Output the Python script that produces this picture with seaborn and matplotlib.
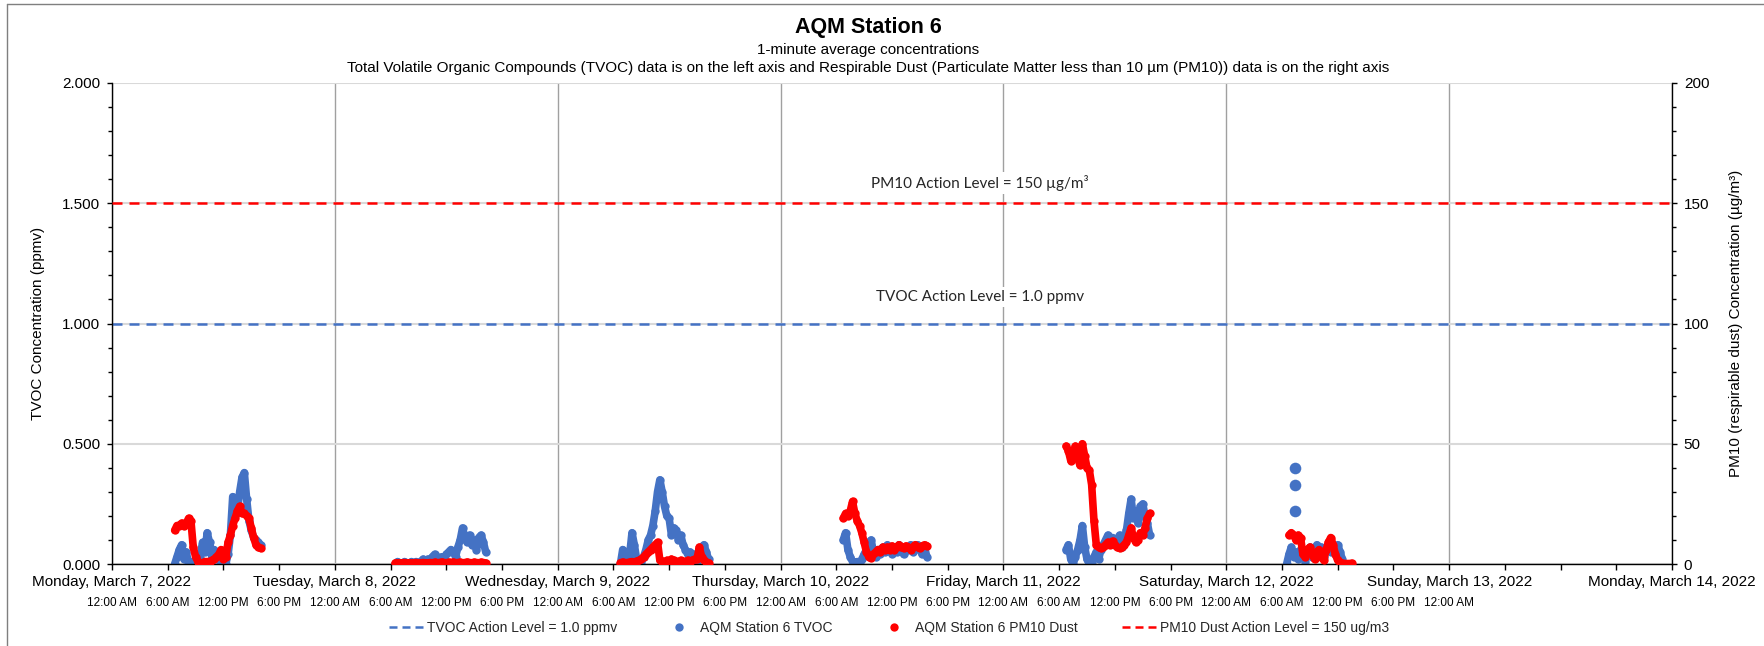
import numpy as np
import pandas as pd
import matplotlib
matplotlib.use("Agg")
import matplotlib.pyplot as plt
import matplotlib.dates as mdates
import matplotlib.transforms as mtrans
from matplotlib.lines import Line2D
from matplotlib.ticker import MultipleLocator, FormatStrFormatter, FuncFormatter
import seaborn as sns

sns.set_theme(style="ticks")
plt.rcParams['font.family'] = ['Liberation Sans', 'DejaVu Sans']

nan = np.nan

# 15-minute readings, one block per monitored day
seg_start = ["2022-03-07 06:45", "2022-03-08 06:30", "2022-03-09 06:45",
             "2022-03-10 06:45", "2022-03-11 06:45", "2022-03-12 06:30"]

tvoc_mon = [0.00, 0.03, 0.06, 0.08, 0.02, 0.05, 0.00, 0.01, 0.00, 0.01,
            0.00, 0.03, 0.09, 0.05, 0.13, 0.09, 0.03, 0.06, 0.02, 0.05,
            0.00, 0.02, 0.00, 0.04, 0.12, 0.28, 0.27, 0.22, 0.30, 0.36,
            0.38, 0.27, 0.18, 0.14, 0.11, 0.10, 0.09, 0.08]
pm10_mon = [14, 16, 16, 17, 16, 17, 19, 18, 7, 3,
            1, 0.5, 0.5, 1, 1, 1, 1.5, 2, 3, 4,
            6, 2, 3, 9, 12, 16, 19, 22, 24, 21,
            21, 20, 19, 15, 11, 8, 7, 6.5]

tvoc_tue = [0.00, 0.01, 0.00, 0.00, 0.01, 0.00, 0.00, 0.01, 0.00, 0.01,
            0.00, 0.01, 0.02, 0.01, 0.02, 0.01, 0.03, 0.04, 0.03, 0.02,
            0.03, 0.02, 0.04, 0.05, 0.06, 0.05, 0.03, 0.07, 0.10, 0.15,
            0.11, 0.09, 0.12, 0.08, 0.10, 0.06, 0.11, 0.12, 0.09, 0.05]
pm10_tue = [0.4, 0.5, 0.3, 0.5, 0.6, 0.4, 0.5, 0.3, 0.5, 0.6,
            0.4, 0.5, 0.6, 0.5, 0.4, 0.6, 0.5, 0.7, 0.5, 0.6,
            0.8, 0.6, 0.5, 0.7, 0.6, 0.8, 0.5, 0.6, 0.7, 0.5,
            0.6, 0.8, 0.6, 0.5, 0.7, 0.6, 0.5, 0.7, 0.6, 0.4]

tvoc_wed = [0.00, 0.06, 0.02, 0.00, 0.04, 0.13, 0.08, 0.02, 0.00, 0.01,
            0.03, 0.06, 0.10, 0.12, 0.16, 0.22, 0.30, 0.35, 0.30, 0.24,
            0.20, 0.19, 0.12, 0.15, 0.14, 0.10, 0.12, 0.08, 0.06, 0.04,
            0.05, 0.03, 0.04, 0.01, 0.02, 0.07, 0.08, 0.05, 0.02]
pm10_wed = [0.5, 0.8, 0.5, 0.6, 0.8, 1.0, 0.8, 1.2, 1.5, 2,
            3, 4, 5, 6, 7, 8, 9, 1.5, 1, 1,
            1.5, 1, 2, 1.5, 1, 1, 1.5, 1, 1, 1.5,
            1, 1.5, 2, 2, 7, 3, 1.5, 0.8, 0.5]

tvoc_thu = [0.10, 0.13, 0.06, 0.03, 0.01, 0.00, 0.01, 0.00, 0.02, 0.04,
            0.06, 0.09, 0.10, 0.05, 0.03, 0.06, 0.04, 0.07, 0.05, 0.08,
            0.06, 0.04, 0.07, 0.05, 0.08, 0.06, 0.04, 0.07, 0.06, 0.08,
            0.05, 0.07, 0.08, 0.06, 0.04, 0.07, 0.03]
pm10_thu = [19, 21, 20, 22, 26, 21, 18, 16, 13, 9,
            5, 3, 2.5, 4, 5, 6, 5, 7, 6, 7,
            6, 7.5, 6, 7, 8, 7, 6.5, 7.5, 7, 6,
            7, 8, 7, 6.5, 7.5, 8, 7.5]

tvoc_fri = [0.06, 0.08, 0.02, 0.00, 0.03, 0.06, 0.10, 0.16, 0.07, 0.02,
            0.00, 0.01, 0.03, 0.05, 0.02, 0.06, 0.08, 0.10, 0.12, 0.09,
            0.11, 0.08, 0.10, 0.12, 0.07, 0.10, 0.14, 0.21, 0.27, 0.19,
            0.22, 0.17, 0.24, 0.25, 0.20, 0.17, 0.12]
pm10_fri = [49, 47, 43, 46, 49, 44, 41, 50, 45, 40,
            39, 33, 18, 8, 7, 6.5, 7, 8, 9, 8,
            9.5, 8, 7, 6.5, 7, 8, 9, 12, 15, 11,
            9, 10, 13, 12, 15, 19, 21]

tvoc_sat = [0.00, 0.04, 0.07, 0.03, 0.05, 0.02, 0.06, 0.04, 0.01, 0.05,
            0.07, 0.03, 0.06, 0.08, 0.04, 0.07, 0.03, 0.06, 0.08, 0.05,
            0.07, 0.04, 0.08, 0.05, 0.02, nan, nan, nan, nan]
pm10_sat = [nan, 12, 13, 12, 10, 12, 11, 4, 3, 6,
            7, 4, 2, 5, 6, 3, 1.5, 6, 9, 11,
            8, 4, 1.5, 0.5, 0.3, 0.2, 0.2, 0.2, 0.3]

# isolated TVOC spikes on Saturday morning
spike_time = ["2022-03-12 07:24", "2022-03-12 07:25", "2022-03-12 07:26"]
spike_tvoc = [0.40, 0.33, 0.22]

time_labels = ["12:00 AM", "6:00 AM", "12:00 PM", "6:00 PM"] * 6 + ["12:00 AM"]

tvoc_all = [tvoc_mon, tvoc_tue, tvoc_wed, tvoc_thu, tvoc_fri, tvoc_sat]
pm10_all = [pm10_mon, pm10_tue, pm10_wed, pm10_thu, pm10_fri, pm10_sat]

frames = []
for i, (st, tv, pm) in enumerate(zip(seg_start, tvoc_all, pm10_all)):
    t = pd.date_range(st, periods=len(tv), freq="15min")
    frames.append(pd.DataFrame({"time": t, "tvoc": tv, "pm10": pm, "seg": i}))
df = pd.concat(frames, ignore_index=True)

BLUE = "#4472C4"
RED = "#FF0000"
DASH = (0, (4, 2.8))
LEG_DASH = (0, (3.2, 2))

fig = plt.figure(figsize=(17.64, 6.46), dpi=100)
W, H = 1764, 646
ax = fig.add_axes([112 / W, 1 - 564 / H, 1560 / W, 481 / H])
ax2 = ax.twinx()

ax.set_axisbelow(True)
ax.yaxis.grid(True, color="#D9D9D9", lw=1.5)
ax.xaxis.grid(True, which="major", color="#A0A0A0", lw=1)

line_kw = dict(estimator=None, units="seg", marker="o", markersize=6,
               markeredgewidth=0, lw=5.5, solid_capstyle="round",
               solid_joinstyle="round", legend=False)
sns.lineplot(data=df.dropna(subset=["tvoc"]), x="time", y="tvoc", ax=ax,
             color=BLUE, **line_kw)
sns.scatterplot(x=pd.to_datetime(spike_time), y=spike_tvoc, ax=ax, color=BLUE,
                s=70, linewidth=0, legend=False)
ax.axhline(1.0, color=BLUE, ls=DASH, lw=1.8)

sns.lineplot(data=df.dropna(subset=["pm10"]), x="time", y="pm10", ax=ax2,
             color=RED, **line_kw)
ax2.axhline(150, color=RED, ls=DASH, lw=1.8)

# axes
ax.set_xlim(pd.Timestamp("2022-03-07"), pd.Timestamp("2022-03-14"))
ax.set_ylim(0, 2)
ax2.set_ylim(0, 200)
ax.xaxis.set_major_locator(mdates.DayLocator())
ax.xaxis.set_minor_locator(mdates.HourLocator(byhour=[6, 12, 18]))


def day_fmt(x, pos):
    d = mdates.num2date(x)
    return f"{d:%A}, {d:%B} {d.day}, {d.year}"


ax.xaxis.set_major_formatter(FuncFormatter(day_fmt))
ax.yaxis.set_major_locator(MultipleLocator(0.5))
ax.yaxis.set_minor_locator(MultipleLocator(0.1))
ax.yaxis.set_major_formatter(FormatStrFormatter("%.3f"))
ax2.yaxis.set_major_locator(MultipleLocator(50))
ax2.yaxis.set_minor_locator(MultipleLocator(10))
ax2.yaxis.set_major_formatter(FormatStrFormatter("%d"))

ax.set_xlabel("")
ax.set_ylabel("TVOC Concentration (ppmv)", fontsize=11, color="black", labelpad=12)
ax2.set_ylabel("PM10 (respirable dust) Concentration (µg/m³)", fontsize=11,
               color="black", labelpad=14)

ax.tick_params(axis="x", which="both", direction="out", length=4, width=1,
               color="black", labelsize=11, labelcolor="black", pad=4)
ax.tick_params(axis="y", which="major", direction="out", length=3.5, width=1,
               color="black", labelsize=11, labelcolor="black", pad=5)
ax.tick_params(axis="y", which="minor", direction="out", length=3, width=1,
               color="black")
ax2.tick_params(axis="y", which="major", direction="out", length=3.5, width=1,
                color="black", labelsize=11, labelcolor="black", pad=5)
ax2.tick_params(axis="y", which="minor", direction="out", length=3, width=1,
                color="black")

for s in ["top", "right"]:
    ax.spines[s].set_visible(False)
for s in ["top", "left", "bottom"]:
    ax2.spines[s].set_visible(False)
for a, s in [(ax, "left"), (ax, "bottom"), (ax2, "right")]:
    a.spines[s].set_color("black")
    a.spines[s].set_linewidth(1)

# time-of-day row under the day labels
trans = mtrans.blended_transform_factory(ax.transData, ax.transAxes)
label_times = pd.date_range("2022-03-07", periods=len(time_labels), freq="6h")
for t, lab in zip(label_times, time_labels):
    ax.text(mdates.date2num(t), -(603 - 564) / 481, lab, transform=trans,
            ha="center", va="center", fontsize=8.5, color="black")

# action level notes
note_kw = dict(transform=ax2.transAxes, ha="center", va="center", fontsize=11,
               family=["Lato", "DejaVu Sans"], color="#262626",
               bbox=dict(facecolor="white", edgecolor="none", pad=2))
ax2.text((980 - 112) / 1560, (564 - 183) / 481, "PM10 Action Level = 150 µg/m³", **note_kw)
ax2.text((980 - 112) / 1560, (564 - 297) / 481, "TVOC Action Level = 1.0 ppmv", **note_kw)

# titles
cx = 868 / W
fig.text(cx, 1 - 28 / H, "AQM Station 6", ha="center", va="center",
         fontsize=15.5, fontweight="bold", color="black")
fig.text(cx, 1 - 50 / H, "1-minute average concentrations", ha="center",
         va="center", fontsize=11, color="black")
fig.text(cx, 1 - 68 / H,
         "Total Volatile Organic Compounds (TVOC) data is on the left axis and "
         "Respirable Dust (Particulate Matter less than 10 µm (PM10)) data is on the right axis",
         ha="center", va="center", fontsize=11, color="black")

handles = [
    Line2D([], [], color=BLUE, ls=LEG_DASH, lw=1.8),
    Line2D([], [], ls="none", marker="o", color=BLUE, markersize=6, markeredgewidth=0),
    Line2D([], [], ls="none", marker="o", color=RED, markersize=6, markeredgewidth=0),
    Line2D([], [], color=RED, ls=LEG_DASH, lw=1.8),
]
labels = ["TVOC Action Level = 1.0 ppmv", "AQM Station 6 TVOC",
          "AQM Station 6 PM10 Dust", "PM10 Dust Action Level = 150 ug/m3"]
fig.legend(handles, labels, loc="center", bbox_to_anchor=(889 / W, 1 - 628 / H),
           ncol=4, frameon=False, fontsize=10, handlelength=2.45,
           handletextpad=0.3, columnspacing=3.2)

# chart area border
fig.add_artist(Line2D([7 / W, 1], [1 - 4 / H, 1 - 4 / H], transform=fig.transFigure,
                      color="#7F7F7F", lw=1))
fig.add_artist(Line2D([7 / W, 7 / W], [0, 1 - 4 / H], transform=fig.transFigure,
                      color="#7F7F7F", lw=1))

fig.savefig("out.png", dpi=100)
